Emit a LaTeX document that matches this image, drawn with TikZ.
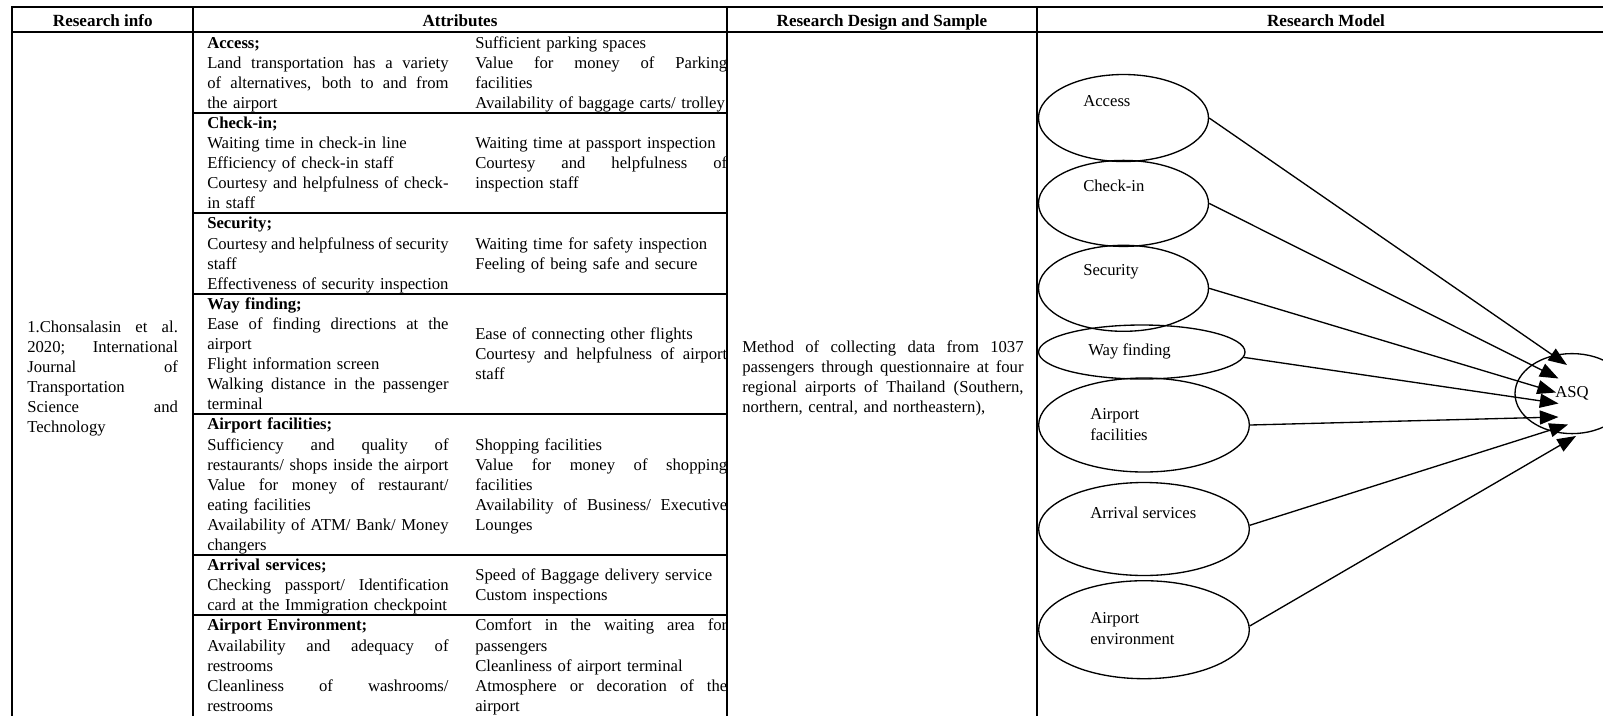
\documentclass[tikz,border=0pt]{standalone}
\usepackage{fontspec}
\setmainfont{Liberation Serif}
\usetikzlibrary{shapes.geometric, arrows.meta}

\newcommand{\bodysize}{\fontsize{12.5}{15.075}\selectfont}
\newlength{\cellw}
\newcommand{\jline}[1]{\makebox[\cellw][s]{\spaceskip=0.25em plus 1em minus 0.04em\relax #1}}

\tikzset{
  tline/.style={line width=1.5pt, line cap=rect},
  hdr/.style={anchor=base, inner sep=0pt, font=\fontsize{12.8}{15}\selectfont\bfseries},
  cell/.style={anchor=base west, inner sep=0pt, align=left, text width=#1,
    execute at begin node={\setlength{\cellw}{#1}}},
  lcol/.style={cell=181pt},
  rcol/.style={cell=189pt},
  factor/.style={draw, ellipse, line width=1pt, inner sep=0pt},
  flbl/.style={anchor=base west, inner sep=0pt, align=left, font=\fontsize{12.5}{15.6}\selectfont},
  conn/.style={line width=1pt, -{Triangle[length=14pt,width=10.5pt]}}
}

\begin{document}
\begin{tikzpicture}[x=0.75pt, y=-0.75pt, font=\bodysize]
\useasboundingbox (0,0) rectangle (1603,715);

% table rules
\draw[tline] (12.3,7.3) -- (1615,7.3);
\draw[tline] (12.3,31.7) -- (1615,31.7);
\foreach \x in {12.3,193.3,727,1037}
  \draw[tline] (\x,7.3) -- (\x,730);
\foreach \y in {112.9,213.4,293.8,414.4,555.1,615.4}
  \draw[tline] (193.3,\y) -- (727,\y);

% header row
\node[hdr] (hinfo) at (102.8,26) {Research info};
\node[hdr] (hattr) at (460,26) {Attributes};
\node[hdr] (hdesign) at (882,26) {Research Design and Sample};
\node[hdr] (hmodel) at (1326,26) {Research Model};

\node[cell=113pt] (info) at (27,332) {\jline{1.Chonsalasin et al.}\\
  \jline{2020; International}\\ \jline{Journal of}\\ Transportation\\
  \jline{Science and}\\ Technology};
\node[cell=211pt] (design) at (742,352.5) {\jline{Method of collecting data from 1037}\\
  \jline{passengers through questionnaire at four}\\
  \jline{regional airports of Thailand (Southern,}\\
  northern, central, and northeastern),};

% attributes
\node[lcol] (accL) at (207,48) {\textbf{Access;}\\
  \jline{Land transportation has a variety}\\
  \jline{of alternatives, both to and from}\\ the airport};
\node[rcol] (accR) at (475,48) {Sufficient parking spaces\\
  \jline{Value for money of Parking}\\ facilities\\
  Availability of baggage carts/ trolley};
\node[lcol] (chkL) at (207,128.4) {\textbf{Check-in;}\\
  Waiting time in check-in line\\ Efficiency of check-in staff\\
  \jline{Courtesy and helpfulness of check-}\\ in staff};
\node[rcol] (chkR) at (475,148.5) {Waiting time at passport inspection\\
  \jline{Courtesy and helpfulness of}\\ inspection staff};
\node[lcol] (secL) at (207,228.9) {\textbf{Security;}\\
  \jline{Courtesy and helpfulness of security}\\ staff\\
  Effectiveness of security inspection};
\node[rcol] (secR) at (475,249) {Waiting time for safety inspection\\
  Feeling of being safe and secure};
\node[lcol] (wayL) at (207,309.3) {\textbf{Way finding;}\\
  \jline{Ease of finding directions at the}\\ airport\\
  Flight information screen\\
  \jline{Walking distance in the passenger}\\ terminal};
\node[rcol] (wayR) at (475,339.45) {Ease of connecting other flights\\
  \jline{Courtesy and helpfulness of airport}\\ staff};
\node[lcol] (facL) at (207,429.9) {\textbf{Airport facilities;}\\
  \jline{Sufficiency and quality of}\\
  \jline{restaurants/ shops inside the airport}\\
  \jline{Value for money of restaurant/}\\ eating facilities\\
  \jline{Availability of ATM/ Bank/ Money}\\ changers};
\node[rcol] (facR) at (475,450) {Shopping facilities\\
  \jline{Value for money of shopping}\\ facilities\\
  \jline{Availability of Business/ Executive}\\ Lounges};
\node[lcol] (arrL) at (207,570.6) {\textbf{Arrival services;}\\
  \jline{Checking passport/ Identification}\\
  card at the Immigration checkpoint};
\node[rcol] (arrR) at (475,580.65) {Speed of Baggage delivery service\\
  Custom inspections};
\node[lcol] (envL) at (207,630.9) {\textbf{Airport Environment;}\\
  \jline{Availability and adequacy of}\\ restrooms\\
  \jline{Cleanliness of washrooms/}\\ restrooms};
\node[rcol] (envR) at (475,630.9) {\jline{Comfort in the waiting area for}\\
  passengers\\ Cleanliness of airport terminal\\
  \jline{Atmosphere or decoration of the}\\ airport};

% research model
\node[factor, minimum width=127.5pt, minimum height=65.25pt] (access) at (1123.5,118) {};
\node[factor, minimum width=127.5pt, minimum height=64.5pt] (checkin) at (1123.5,203.4) {};
\node[factor, minimum width=127.5pt, minimum height=64.5pt] (security) at (1123.5,288.3) {};
\node[factor, minimum width=154.8pt, minimum height=40.5pt] (wayfind) at (1141.8,352) {};
\node[factor, minimum width=158pt, minimum height=70.5pt] (facil) at (1144,425) {};
\node[factor, minimum width=158pt, minimum height=69.75pt] (arrival) at (1144,529) {};
\node[factor, minimum width=158pt, minimum height=73.5pt] (environ) at (1144,629.7) {};
\node[factor, minimum width=85.5pt, minimum height=60pt] (asq) at (1572,393.6) {ASQ};

\node[flbl] (accesst) at (1083,106.5) {Access};
\node[flbl] (checkint) at (1083,191.5) {Check-in};
\node[flbl] (securityt) at (1083,275.5) {Security};
\node[flbl] (wayfindt) at (1088,355.5) {Way finding};
\node[flbl] (facilt) at (1090,440.2) {Airport\\facilities};
\node[flbl] (arrivalt) at (1090,518.5) {Arrival services};
\node[flbl] (environt) at (1090,644.7) {Airport\\environment};

\coordinate (tip1) at (1567,365);
\coordinate (tip2) at (1558.5,378.5);
\coordinate (tip3) at (1556,392.5);
\coordinate (tip4) at (1558.5,403.5);
\coordinate (tip5) at (1558.5,417);
\coordinate (tip6) at (1568,424.5);
\coordinate (tip7) at (1576,436);

\draw[conn] (access.east) -- (tip1);
\draw[conn] (checkin.east) -- (tip2);
\draw[conn] (security.east) -- (tip3);
\draw[conn] (wayfind.-3) -- (tip4);
\draw[conn] (facil.east) -- (tip5);
\draw[conn] (arrival.2) -- (tip6);
\draw[conn] (environ.2) -- (tip7);
\end{tikzpicture}
\end{document}
